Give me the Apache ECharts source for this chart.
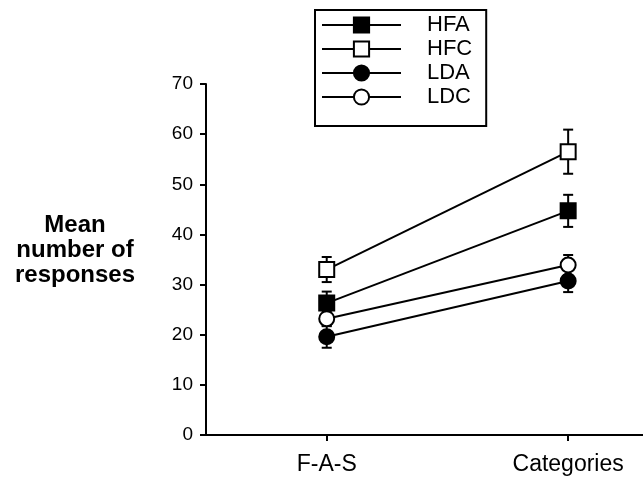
<!DOCTYPE html>
<html>
<head>
<meta charset="utf-8">
<script src="https://cdn.jsdelivr.net/npm/echarts@6/dist/echarts.min.js"></script>
<style>
  html, body { margin: 0; padding: 0; background: #fff; }
  #chart { width: 643px; height: 480px; }
</style>
</head>
<body>
<div id="chart"></div>
<script>
// conditions on the x axis
const categories = ['F-A-S', 'Categories']
const groups = ['HFA', 'HFC', 'LDA', 'LDC']
// means
const hfa = [26.3, 44.7]
const hfc = [33, 56.5]
const lda = [19.6, 30.7]
const ldc = [23.2, 33.9]
// standard error (half bar length)
const hfaErr = [2.3, 3.2]
const hfcErr = [2.5, 4.4]
const ldaErr = [2.2, 2.2]
const ldcErr = [1.5, 2.0]
const yTicks = [0, 10, 20, 30, 40, 50, 60, 70]

const font = 'Liberation Sans, Arial, Helvetica, sans-serif'
const chart = echarts.init(document.getElementById('chart'))

const means = [hfa, hfc, lda, ldc]
const errs = [hfaErr, hfcErr, ldaErr, ldcErr]
const symbols = ['rect', 'rect', 'circle', 'circle']
const fills = ['#000', '#fff', '#000', '#fff']

// x position = category index + 1
const pts = vals => vals.map((v, i) => [i + 1, v])

const errData = []
means.forEach((m, g) => {
  m.forEach((v, i) => {
    errData.push([i + 1, v - errs[g][i], v + errs[g][i]])
  })
})

const lineSeries = groups.map((name, g) => ({
  name: name,
  type: 'line',
  data: pts(means[g]),
  symbol: symbols[g],
  symbolSize: 15,
  showAllSymbol: true,
  z: 3 + g,
  lineStyle: { color: '#000', width: 2 },
  itemStyle: { color: fills[g], borderColor: '#000', borderWidth: 2, opacity: 1 },
  emphasis: { disabled: true }
}))

const option = {
  animation: false,
  backgroundColor: '#fff',
  grid: { left: 206, right: 0, top: 84, bottom: 45 },
  legend: {
    data: groups,
    orient: 'vertical',
    left: 315,
    top: 10,
    padding: [4, 14, 18, 6],
    itemGap: 2,
    itemWidth: 79,
    itemHeight: 19,
    borderColor: '#000',
    borderWidth: 2,
    borderRadius: 0,
    textStyle: { color: '#000', fontSize: 22, fontFamily: font, padding: [0, 0, 0, 21] }
  },
  xAxis: {
    type: 'value',
    min: 0.5,
    max: 2.31,
    splitLine: { show: false },
    axisLine: { show: true, lineStyle: { color: '#000', width: 2 } },
    axisTick: { show: true, customValues: [1, 2], length: 6, lineStyle: { color: '#000', width: 2 } },
    axisLabel: {
      customValues: [1, 2],
      formatter: v => categories[Math.round(v) - 1] || '',
      color: '#000',
      fontSize: 23,
      fontFamily: font,
      margin: 18
    }
  },
  yAxis: {
    type: 'value',
    min: yTicks[0],
    max: yTicks[yTicks.length - 1],
    interval: 10,
    splitLine: { show: false },
    axisLine: { show: true, lineStyle: { color: '#000', width: 2 } },
    axisTick: { show: true, length: 6, lineStyle: { color: '#000', width: 2 } },
    axisLabel: { color: '#000', fontSize: 19, fontFamily: font, margin: 13 }
  },
  graphic: [{
    type: 'text',
    x: 75,
    y: 250,
    style: {
      text: 'Mean\nnumber of\nresponses',
      font: 'bold 24px ' + font,
      fill: '#000',
      align: 'center',
      verticalAlign: 'middle',
      lineHeight: 25
    }
  }],
  series: [{
    type: 'custom',
    name: 'err',
    z: 2,
    silent: true,
    data: errData,
    renderItem: (params, api) => {
      const x = api.value(0)
      const lo = api.coord([x, api.value(1)])
      const hi = api.coord([x, api.value(2)])
      const cap = 5
      const st = { stroke: '#000', lineWidth: 2 }
      return {
        type: 'group',
        children: [
          { type: 'line', shape: { x1: lo[0], y1: lo[1], x2: hi[0], y2: hi[1] }, style: st },
          { type: 'line', shape: { x1: lo[0] - cap, y1: lo[1], x2: lo[0] + cap, y2: lo[1] }, style: st },
          { type: 'line', shape: { x1: hi[0] - cap, y1: hi[1], x2: hi[0] + cap, y2: hi[1] }, style: st }
        ]
      }
    }
  }].concat(lineSeries)
}

chart.setOption(option)
</script>
</body>
</html>
